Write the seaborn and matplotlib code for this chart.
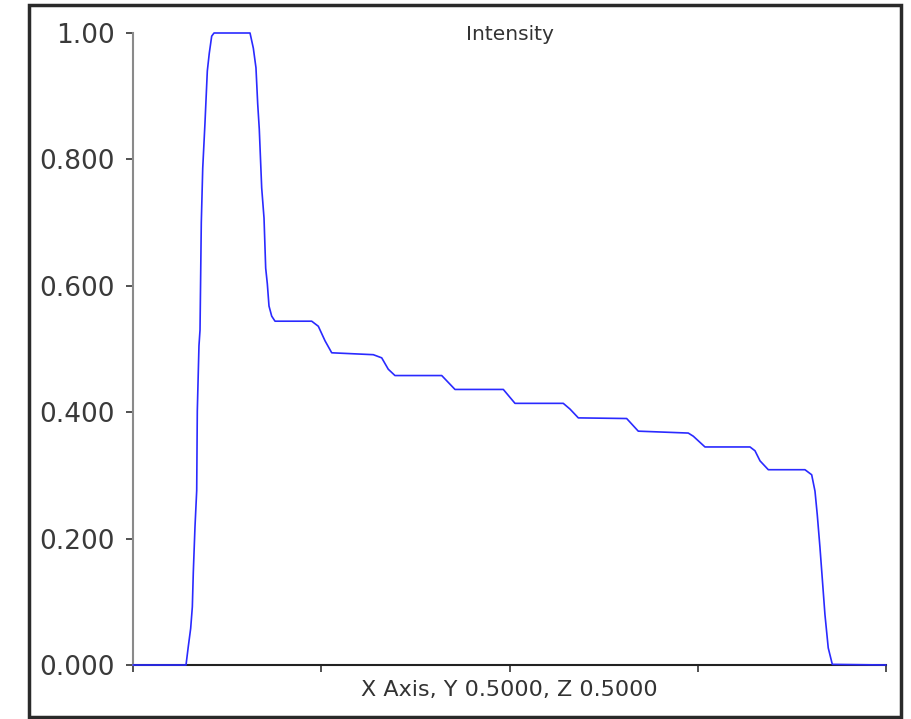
import matplotlib
matplotlib.use("Agg")
import matplotlib.pyplot as plt
import seaborn as sns
import pandas as pd
from matplotlib.patches import Rectangle

# Data (x along the axis, 0..1)
x_pos = [0.000, 0.0704, 0.0734, 0.0766, 0.0788, 0.0801, 0.0823, 0.0846, 0.0854,
         0.0876, 0.0890, 0.0907, 0.0926, 0.0956, 0.0987, 0.1013, 0.1045, 0.1076,
         0.1554, 0.1598, 0.1633, 0.1656, 0.1677, 0.1709, 0.1740, 0.1762, 0.1784,
         0.1806, 0.1842, 0.1886, 0.2373, 0.2461, 0.2550, 0.2639, 0.3191, 0.3303,
         0.3390, 0.3479, 0.4100, 0.4276, 0.4918, 0.5073, 0.5714, 0.5803, 0.5914,
         0.6556, 0.6710, 0.7374, 0.7441, 0.7596, 0.8194, 0.8260, 0.8327, 0.8437,
         0.8924, 0.9013, 0.9057, 0.9087, 0.9123, 0.9153, 0.9189, 0.9233, 0.9287,
         1.0000]
intensity = [0.000, 0.000, 0.029, 0.058, 0.092, 0.147, 0.218, 0.276, 0.402,
             0.505, 0.530, 0.700, 0.786, 0.858, 0.940, 0.968, 0.995, 1.000,
             1.000, 0.976, 0.945, 0.888, 0.848, 0.755, 0.707, 0.628, 0.603,
             0.568, 0.552, 0.544, 0.544, 0.536, 0.513, 0.494, 0.491, 0.486,
             0.468, 0.458, 0.458, 0.436, 0.436, 0.414, 0.414, 0.405, 0.391,
             0.390, 0.370, 0.367, 0.362, 0.345, 0.345, 0.339, 0.323, 0.309,
             0.309, 0.301, 0.275, 0.238, 0.186, 0.138, 0.080, 0.027, 0.001,
             0.000]
y_ticks = [0.0, 0.2, 0.4, 0.6, 0.8, 1.0]
y_tick_labels = ["0.000", "0.200", "0.400", "0.600", "0.800", "1.00"]
x_ticks = [0.0, 0.25, 0.5, 0.75, 1.0]
title_text = "Intensity"
x_label = "X Axis, Y 0.5000, Z 0.5000"

df = pd.DataFrame({"x": x_pos, "intensity": intensity})

sns.set_theme(style="white")
plt.rcParams["font.family"] = ["DejaVu Sans"]

fig = plt.figure(figsize=(9.11, 7.19), dpi=100)
ax = fig.add_axes([133 / 911, 1 - 665 / 719, (886 - 133) / 911, (665 - 33) / 719])

sns.lineplot(data=df, x="x", y="intensity", ax=ax, color="#2a2aff",
             linewidth=1.2, estimator=None, sort=False)
for ln in ax.lines:
    ln.set_zorder(5)
    ln.set_clip_on(False)

ax.set_xlim(0, 1)
ax.set_ylim(0, 1)
ax.set_yticks(y_ticks)
ax.set_yticklabels(y_tick_labels, fontsize=19)
ax.set_xticks(x_ticks)
ax.set_xticklabels([""] * len(x_ticks))
ax.tick_params(axis="both", direction="out", length=5, width=1.2,
               colors="#333333", left=True, bottom=True, pad=8)
ax.tick_params(axis="y", labelcolor="#3a3a3a")
ax.set_xlabel("")
ax.set_ylabel("")

for side in ["top", "right"]:
    ax.spines[side].set_visible(False)
ax.spines["left"].set_color("#8a8a8a")
ax.spines["left"].set_linewidth(1.5)
ax.spines["bottom"].set_color("#222222")
ax.spines["bottom"].set_linewidth(1.5)
ax.spines["bottom"].set_zorder(2)

ax.text(0.5, 0.998, title_text, transform=ax.transAxes, ha="center",
        va="center", fontsize=14.5, color="#333333")
fig.text(509 / 911, 1 - 690 / 719, x_label, ha="center", va="center",
         fontsize=16, color="#333333")

frame = Rectangle((29 / 911, 1 - 717 / 719), (901 - 29) / 911, (717 - 5) / 719,
                  transform=fig.transFigure, fill=False, edgecolor="#2a2a2a",
                  linewidth=2.5, zorder=10)
fig.patches.append(frame)

fig.savefig("out.png", dpi=100)
